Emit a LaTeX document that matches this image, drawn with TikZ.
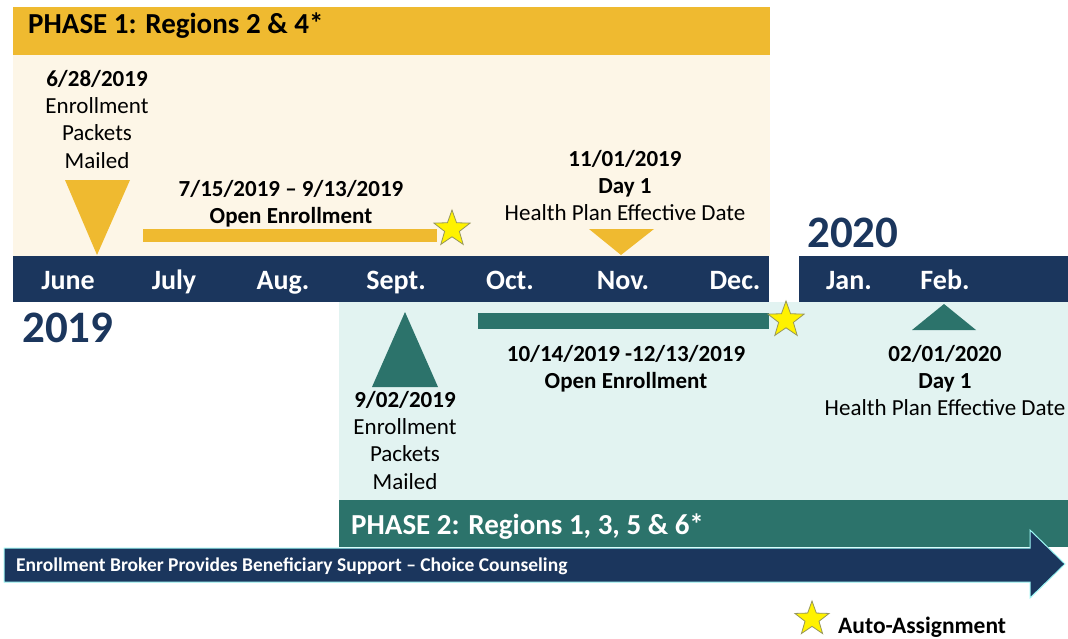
\documentclass[tikz,border=0pt]{standalone}
\usepackage{fontspec}
\setmainfont{Carlito}
\usetikzlibrary{shapes.geometric}

\definecolor{gold}{RGB}{239,186,48}
\definecolor{cream}{RGB}{253,246,231}
\definecolor{navy}{RGB}{27,54,93}
\definecolor{teal2}{RGB}{44,115,107}
\definecolor{mint}{RGB}{226,243,241}
\definecolor{starline}{RGB}{150,150,90}

\tikzset{
  month/.style={anchor=base,text=white,inner sep=0pt,font=\bfseries\fontsize{28}{32}\selectfont},
  event/.style={anchor=north,align=center,inner sep=0pt,font=\fontsize{23}{27.3}\selectfont},
  phase/.style={anchor=base west,inner sep=0pt,font=\bfseries\fontsize{29}{33}\selectfont},
  year/.style={anchor=base west,inner sep=0pt,text=navy,font=\bfseries\fontsize{45}{48}\selectfont},
  autostar/.style={star,star points=5,star point ratio=2.45,fill=yellow,draw=starline,
    line width=0.8pt,minimum size=38pt,inner sep=0pt},
}

\begin{document}
\begin{tikzpicture}[x=1pt,y=-1pt]
  \useasboundingbox (0,0) rectangle (1068,638);

  % phase backgrounds
  \fill[cream] (13,55) rectangle (770,256);
  \fill[mint] (339,302) rectangle (1068,500);
  \fill[gold] (13,7) rectangle (770,55);
  \fill[teal2] (339,500) rectangle (1068,547);
  \node[phase] (ph1) at (28,33) {PHASE 1: Regions 2 \& 4*};
  \node[phase,text=white] (ph2) at (351,534) {PHASE 2: Regions 1, 3, 5 \& 6*};

  % months
  \fill[navy] (13,256) rectangle (769,302);
  \fill[navy] (799,256) rectangle (1068,302);
  \node[month] (jun) at (68,289) {June};
  \node[month] (jul) at (174,289) {July};
  \node[month] (aug) at (283,289) {Aug.};
  \node[month] (sep) at (396,289) {Sept.};
  \node[month] (oct) at (510,289) {Oct.};
  \node[month] (nov) at (623,289) {Nov.};
  \node[month] (dec) at (735,289) {Dec.};
  \node[month] (jan) at (849,289) {Jan.};
  \node[month] (feb) at (945,289) {Feb.};
  \node[year] (y2019) at (22,342) {2019};
  \node[year] (y2020) at (807,247) {2020};

  % phase 1 events
  \fill[gold] (65,180) -- (130,180) -- (97,255) -- cycle;
  \fill[gold] (589,229) -- (654,229) -- (621,255) -- cycle;
  \fill[gold] (143,229) rectangle (437,242);
  \node[autostar] (s1) at (452,229) {};
  \node[event] (mail1) at (97,70) {\textbf{6/28/2019}\\Enrollment\\Packets\\Mailed};
  \node[event,font=\bfseries\fontsize{23}{27.3}\selectfont] (open1) at (291,180) {7/15/2019 -- 9/13/2019\\Open Enrollment};
  \node[event] (day1a) at (625,150) {\textbf{11/01/2019}\\\textbf{Day 1}\\Health Plan Effective Date};

  % phase 2 events
  \fill[teal2] (405,312) -- (438,387) -- (372,387) -- cycle;
  \fill[teal2] (944,304) -- (976,330) -- (912,330) -- cycle;
  \fill[teal2] (478,313) rectangle (769,329);
  \node[autostar] (s2) at (786,320) {};
  \node[event] (mail2) at (405,391) {\textbf{9/02/2019}\\Enrollment\\Packets\\Mailed};
  \node[event,font=\bfseries\fontsize{23}{27.3}\selectfont] (open2) at (626,345) {10/14/2019 -12/13/2019\\Open Enrollment};
  \node[event] (day1b) at (945,345) {\textbf{02/01/2020}\\\textbf{Day 1}\\Health Plan Effective Date};

  % broker arrow
  \draw[fill=navy,draw=mint!70!cyan,line width=1pt] (4,548) -- (1030,548) -- (1030,530) -- (1065,564)
    -- (1030,598) -- (1030,582) -- (4,582) -- cycle;
  \node[anchor=base west,inner sep=0pt,text=white,font=\bfseries\fontsize{19.5}{22}\selectfont] (broker) at (16,571.5)
    {Enrollment Broker Provides Beneficiary Support -- Choice Counseling};

  % legend
  \node[autostar,minimum size=36pt] (s3) at (812,619) {};
  \node[anchor=base west,inner sep=0pt,font=\bfseries\fontsize{23.5}{26}\selectfont] (auto) at (838,633) {Auto-Assignment};
\end{tikzpicture}
\end{document}
